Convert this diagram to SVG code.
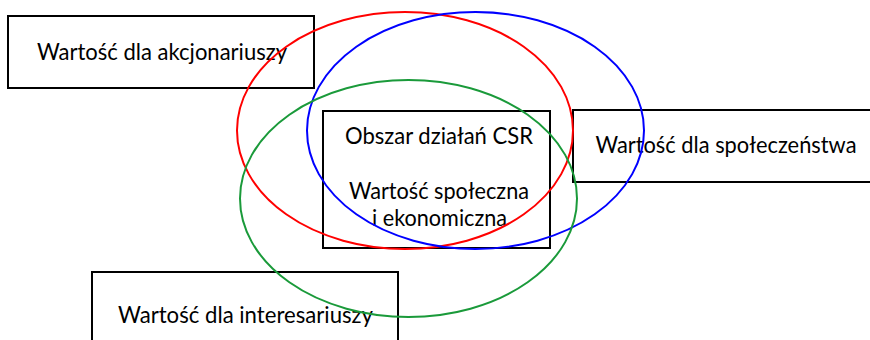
<svg xmlns="http://www.w3.org/2000/svg" width="870" height="340" viewBox="0 0 870 340">
<style>
.box{fill:none;stroke:#000;stroke-width:2}
.ell{fill:none;stroke-width:2}
text{font-family:Lato,"Open Sans","Liberation Sans",sans-serif;font-size:22.5px;fill:#000;text-anchor:middle}
</style>
<rect width="870" height="340" fill="#fff"/>
<g id="akcjonariusze">
<rect class="box" x="8" y="16" width="306" height="72"/>
<text x="162" y="60" textLength="250" lengthAdjust="spacingAndGlyphs">Wartość dla akcjonariuszy</text>
</g>
<g id="csr">
<rect class="box" x="323" y="111" width="227" height="137"/>
<text x="439" y="144" textLength="188" lengthAdjust="spacingAndGlyphs">Obszar działań CSR</text>
<text x="439" y="199" textLength="180" lengthAdjust="spacingAndGlyphs">Wartość społeczna</text>
<text x="439.5" y="226" textLength="135" lengthAdjust="spacingAndGlyphs">i ekonomiczna</text>
</g>
<g id="spoleczenstwo">
<rect class="box" x="573" y="110" width="300" height="72"/>
<text x="726" y="153" textLength="261" lengthAdjust="spacingAndGlyphs">Wartość dla społeczeństwa</text>
</g>
<g id="interesariusze">
<rect class="box" x="92" y="272" width="306" height="80"/>
<text x="245.5" y="323" textLength="255" lengthAdjust="spacingAndGlyphs">Wartość dla interesariuszy</text>
</g>
<g id="ellipses">
<ellipse class="ell" cx="405" cy="130.5" rx="168" ry="118.5" stroke="#ff0000"/>
<ellipse class="ell" cx="475.5" cy="130.5" rx="168.5" ry="118.5" stroke="#0000ff"/>
<ellipse class="ell" cx="408.5" cy="198.5" rx="168.5" ry="118.5" stroke="#1a9a3a"/>
</g>
</svg>
